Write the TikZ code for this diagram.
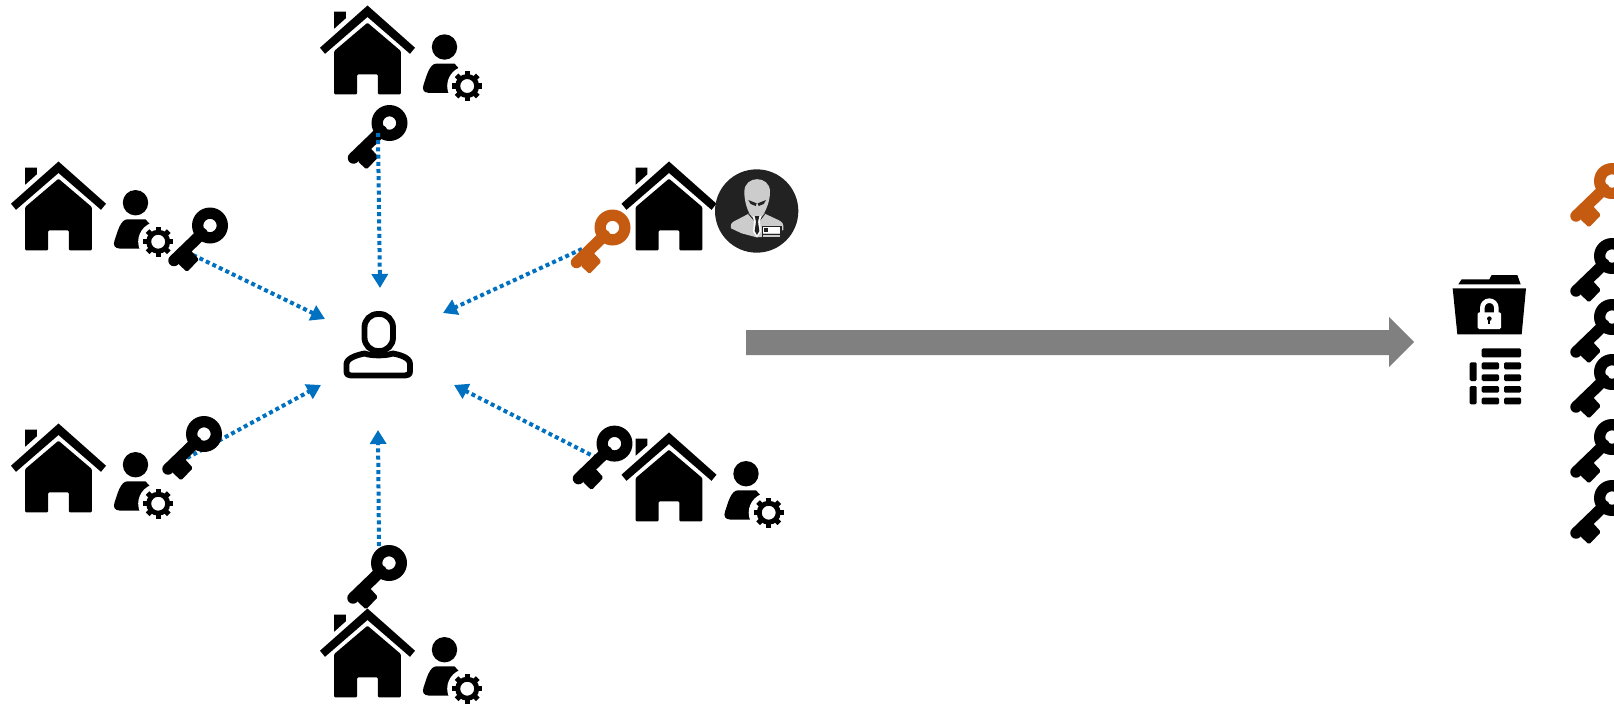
\documentclass[tikz,border=0pt]{standalone}
\usetikzlibrary{arrows.meta}
\definecolor{linkblue}{HTML}{0070C0}
\definecolor{rogue}{HTML}{C55A11}
\definecolor{shaftgrey}{HTML}{808080}
\definecolor{masked}{HTML}{222222}
\definecolor{maskface}{HTML}{CCCCCC}
\tikzset{
  x=0.75pt,y=-0.75pt,
  linkarrow/.style={draw=linkblue,line width=3pt,dash pattern=on 3pt off 2.4pt,
    -{Triangle[length=10.5pt,width=12pt,fill=linkblue]}},
  pics/housemark/.style={code={
    \fill[black] (0,-0.5)--(47.5,41.7)--(42.5,47.8)--(0,11)--(-42.5,47.8)--(-47.5,41.7)--cycle;
    \fill[black] (-33.3,5.7)--(-21.7,5.7)--(-21.7,12.3)--(-33.3,22.7)--cycle;
    \fill[black,rounded corners=0.8pt]
      (0,16.7)--(33.3,45)--(33.3,88.3)--(10.3,88.3)--(10.3,68.3)--(-10.3,68.3)--(-10.3,88.3)--(-33.3,88.3)--(-33.3,45)--cycle;
  }},
  pics/adminmark/.style={code={
    \fill[black] (0,0) circle[radius=12.7];
    \fill[black] (-8,16.6)--(10,16.6)--(22,30)--(8,45.8)--(-16,45.8)
       .. controls (-21,45.8) and (-22.5,42) .. (-21,38)
       .. controls (-18,29) and (-15,16.6) .. (-8,16.6) -- cycle;
    \fill[white] (22.7,39) circle[radius=20];
    \foreach \a in {0,45,...,315}{
      \draw[black,line width=3.9pt] (22.7,39)++(\a:9)--++(\a:6);
    }
    \fill[black,even odd rule] (22.7,39) circle[radius=12] (22.7,39) circle[radius=7];
  }},
  pics/keymark/.style={code={
    \fill[#1,even odd rule] (0,0) circle[radius=18] (0,0) circle[radius=6.7];
    \draw[#1,line width=8.6pt,line cap=round] (-8,8)--(-36,35);
    \fill[#1,rounded corners=1.2pt] (-32,38)--(-23,46.5)--(-11,34)--(-20,24)--cycle;
  }},
  pics/plainuser/.style={code={
    \draw[black,line width=4.4pt,rounded corners=10pt] (364.5,314)--(393,314)--(393,351)--(364.5,351)--cycle;
    \draw[black,line width=4.4pt,line join=round] (346.5,364)
      .. controls (346.5,357) and (362,354) .. (364.5,353.5)
      .. controls (372,356) and (385,356) .. (393,353.5)
      .. controls (398,354.5) and (410,357) .. (410,364)
      -- (410,371) .. controls (410,374.5) and (408,375.5) .. (405,375.5)
      -- (351,375.5) .. controls (348,375.5) and (346.5,374.5) .. (346.5,371) -- cycle;
  }}
}
\begin{document}
\begin{tikzpicture}
\path[clip,use as bounding box] (0,0) rectangle (1614,704);
% connector ends
\coordinate (ktop) at (378,133);   \coordinate (ctop) at (380,288);
\coordinate (kul) at (193,255);    \coordinate (cul) at (325,319);
\coordinate (kor) at (582,249);    \coordinate (cor) at (443,313);
\coordinate (kll) at (187,458);    \coordinate (cll) at (321,385);
\coordinate (klr) at (597,458);    \coordinate (clr) at (454,385);
\coordinate (kbot) at (379,546);   \coordinate (cbot) at (378,430);
\draw[linkarrow] (kul)--(cul);
\draw[linkarrow] (kor)--(cor);
\draw[linkarrow] (kll)--(cll);
\draw[linkarrow] (klr)--(clr);
\draw[linkarrow] (kbot)--(cbot);
% houses
\foreach \p/\q in {367.5/6,58.5/162,58.5/424,669/162,669/433,367.5/609}{
  \pic at (\p,\q) {housemark};
}
% admins
\foreach \p/\q in {444.5/47,135.5/202.7,135.5/464.7,746/473.7,444.5/649.7}{
  \pic at (\p,\q) {adminmark};
}
% keys
\foreach \p/\q in {389.5/123,210/225.5,204/434,614.5/443.6,389/563,1612/256,1612/317,1612/372,1612/437,1612/498}{
  \pic at (\p,\q) {keymark=black};
}
\pic at (612.5,227.5) {keymark=rogue};
\pic at (1612,181) {keymark=rogue};
\draw[linkarrow] (ktop)--(ctop);
% attacker
\begin{scope}[shift={(560,150)},x=0.25pt,y=-0.25pt]
  \fill[masked] (590,183) circle[radius=125];
  \fill[maskface] (513,235) .. controls (510,222) and (515,216) .. (530,210)
     -- (568,190) -- (612,190) -- (655,210)
     .. controls (668,216) and (672,222) .. (670,240)
     -- (620,260) -- (590,262) -- (545,250) -- cycle;
  \fill[maskface] (553,125) .. controls (553,75) and (630,75) .. (630,125)
     .. controls (630,155) and (618,178) .. (612,190)
     -- (590,200) -- (568,190)
     .. controls (562,178) and (553,155) .. (553,125) -- cycle;
  \fill[masked] (565,150)--(590,160)--(587,168)--(572,162)--cycle;
  \fill[masked] (618,150)--(593,160)--(596,168)--(611,162)--cycle;
  \draw[masked,line width=0.7pt] (566,192)--(586,215)--(590,258);
  \draw[masked,line width=0.7pt] (614,192)--(596,215)--(592,258);
  \fill[white] (578,198)--(604,198)--(600,215)--(603,245)--(591,262)--(579,245)--(582,215)--cycle;
  \fill[masked] (584,198)--(598,198)--(594,215)--(598,243)--(591,255)--(584,243)--(588,215)--cycle;
  \fill[masked] (605,228) rectangle (665,265);
  \fill[white] (610,232) rectangle (660,260);
  \fill[masked] (612,235) rectangle (625,247);
  \fill[maskface] (610,248) rectangle (660,260);
  \draw[masked,line width=0.4pt] (610,254)--(660,254);
\end{scope}
% central user
\pic {plainuser};
% big arrow
\fill[shaftgrey] (746,330)--(1389,330)--(1389,317)--(1414,342)--(1389,367)--(1389,355)--(746,355)--cycle;
% folder and table
\begin{scope}[shift={(1430,150)},x=0.25pt,y=-0.25pt]
  \fill[black] (85,403)--(95,388)--(178,388)--(185,375)--(262,375)--(272,403)--cycle;
  \fill[black] (68,415)--(288,415)--(275,553)--(82,553)--cycle;
  \fill[white,rounded corners=1pt] (143,487) rectangle (213,537);
  \draw[white,line width=3.4pt] (157,490)--(157,473) arc[start angle=180,end angle=0,x radius=21,y radius=-21]--(199,490);
  \fill[black] (178,506) circle[radius=7];
  \fill[black] (175,506) rectangle (181,521);
  \tikzset{tablecell/.style={fill=black,rounded corners=1pt}}
  \path[tablecell] (155,595) rectangle (273,622);
  \foreach \ya/\yb in {637/658,673/693,708/728,743/763}{
    \path[tablecell] (155,\ya) rectangle (207,\yb);
    \path[tablecell] (222,\ya) rectangle (273,\yb);
  }
  \path[tablecell] (119,637) rectangle (140,693);
  \path[tablecell] (119,708) rectangle (140,763);
\end{scope}
\end{tikzpicture}
\end{document}
